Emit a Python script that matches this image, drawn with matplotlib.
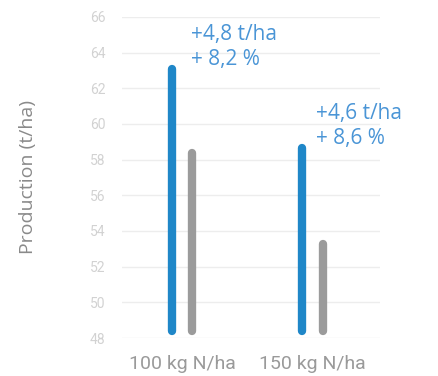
import matplotlib.pyplot as plt
from matplotlib.ticker import MultipleLocator

plt.rcParams['font.family'] = ['Roboto', 'DejaVu Sans']

doses = ['100 kg N/ha', '150 kg N/ha']
treated = [63.3, 58.9]
control = [58.6, 53.5]
gain_labels = ['+4,8 t/ha\n+ 8,2 %', '+4,6 t/ha\n+ 8,6 %']

blue = '#1f87c8'
grey = '#9b9b9b'
label_blue = '#4a95d6'

fig = plt.figure(figsize=(4.39, 3.76), dpi=100)
ax = fig.add_axes([0.278, 0.101, 0.588, 0.854])

ymin, ymax = 48, 66
ax.set_ylim(ymin, ymax)
ax.set_xlim(-0.46, 1.52)

# rounded bars: thick lines, shortened by the cap radius so the tips sit on the values
lw = 6
px_per_unit = fig.get_figheight() * fig.dpi * 0.854 / (ymax - ymin)
cap = (lw / 72 * fig.dpi / 2) / px_per_unit
off = 0.08
for i in range(len(doses)):
    ax.plot([i - off, i - off], [ymin + cap + 0.15, treated[i] - cap], color=blue,
            lw=lw, solid_capstyle='round', zorder=3)
    ax.plot([i + off, i + off], [ymin + cap + 0.15, control[i] - cap], color=grey,
            lw=lw, solid_capstyle='round', zorder=3)
    tx = i + off - 0.01 if i == 0 else i + 0.03
    ax.text(tx, treated[i] + 2.3, gain_labels[i], color=label_blue, fontsize=15,
            family=['Open Sans', 'DejaVu Sans'], va='top', ha='left', linespacing=1.25)

ax.yaxis.set_major_locator(MultipleLocator(2))
ax.grid(axis='y', color='#ededed', lw=1)
ax.set_axisbelow(True)
for s in ax.spines.values():
    s.set_visible(False)
ax.tick_params(axis='y', length=0, pad=12, labelsize=10, labelcolor='#d2d2d2')
ax.tick_params(axis='x', length=0, pad=12, labelsize=14, labelcolor='#9a9a9a')
ax.set_xticks(range(len(doses)))
ax.set_xticklabels(doses)
ax.set_ylabel('Production (t/ha)', color='#8a8a8a', fontsize=14,
              family=['Open Sans', 'DejaVu Sans'])
ax.yaxis.set_label_coords(-0.33, 0.5)

fig.savefig('out.png', dpi=100)
